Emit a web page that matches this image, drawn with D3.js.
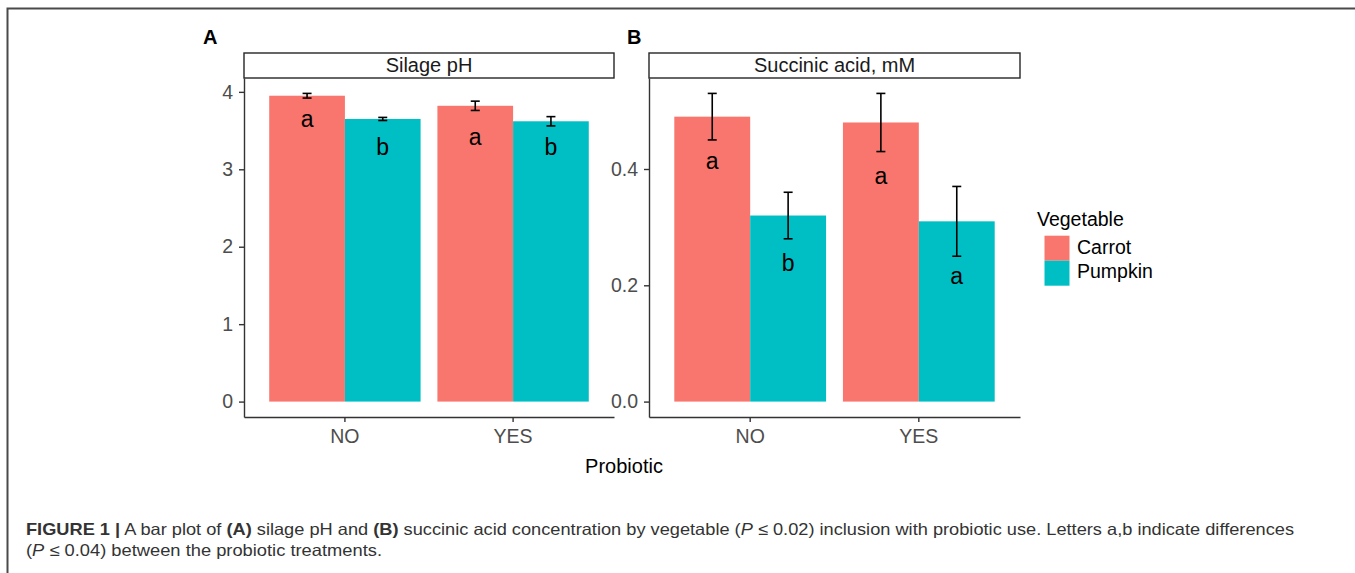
<!DOCTYPE html>
<html>
<head>
<meta charset="utf-8">
<script src="https://cdn.jsdelivr.net/npm/d3@7"></script>
<style>
  body { margin: 0; background: #fff; }
  svg { display: block; }
</style>
</head>
<body>
<svg id="fig" width="1355" height="573"></svg>
<script>
// ---- data ----
const probiotic = ["NO", "YES"];
const vegetables = ["Carrot", "Pumpkin"];

// Silage pH (mean, SE) for NO / YES
const phCarrot = [3.95, 3.82];
const phCarrotSE = [0.03, 0.06];
const phPumpkin = [3.65, 3.62];
const phPumpkinSE = [0.02, 0.06];
const phCarrotLetters = ["a", "a"];
const phPumpkinLetters = ["b", "b"];
const phCarrotLetterY = [3.55, 3.31];
const phPumpkinLetterY = [3.19, 3.19];
const phTicks = [0, 1, 2, 3, 4];

// Succinic acid, mM (mean, SE) for NO / YES
const saCarrot = [0.49, 0.48];
const saCarrotSE = [0.04, 0.05];
const saPumpkin = [0.32, 0.31];
const saPumpkinSE = [0.04, 0.06];
const saCarrotLetters = ["a", "a"];
const saPumpkinLetters = ["b", "a"];
const saCarrotLetterY = [0.40, 0.374];
const saPumpkinLetterY = [0.225, 0.203];
const saTicks = [0.0, 0.2, 0.4];

const colors = ["#F8766D", "#00BFC4"];

function rows(carrot, carrotSE, pumpkin, pumpkinSE, cl, pl, cy, py) {
  const out = [];
  probiotic.forEach((p, i) => {
    out.push({p, veg: "Carrot", v: carrot[i], se: carrotSE[i], letter: cl[i], ly: cy[i]});
    out.push({p, veg: "Pumpkin", v: pumpkin[i], se: pumpkinSE[i], letter: pl[i], ly: py[i]});
  });
  return out;
}

const panels = [
  {
    tag: "A", title: "Silage pH", x0: 244, x1: 614,
    data: rows(phCarrot, phCarrotSE, phPumpkin, phPumpkinSE,
               phCarrotLetters, phPumpkinLetters, phCarrotLetterY, phPumpkinLetterY),
    ticks: phTicks, fmt: d3.format("d")
  },
  {
    tag: "B", title: "Succinic acid, mM", x0: 649, x1: 1020,
    data: rows(saCarrot, saCarrotSE, saPumpkin, saPumpkinSE,
               saCarrotLetters, saPumpkinLetters, saCarrotLetterY, saPumpkinLetterY),
    ticks: saTicks, fmt: d3.format(".1f")
  }
];

const svg = d3.select("#fig");
const FONT = "'Liberation Sans', Arial, Helvetica, sans-serif";
const plotTop = 78, plotBottom = 417, stripTop = 53;

svg.append("rect").attr("width", 1355).attr("height", 573).attr("fill", "#fff");

// figure frame (left and top rule)
svg.append("path")
  .attr("d", "M7.5,573V8.5H1355")
  .attr("fill", "none").attr("stroke", "#4a4a4a").attr("stroke-width", 2);

panels.forEach(pn => {
  const g = svg.append("g");

  const x = d3.scaleBand().domain(probiotic).range([pn.x0, pn.x1])
    .paddingInner(0.1).paddingOuter(0.15);
  const xv = d3.scaleBand().domain(vegetables).range([0, x.bandwidth()]).padding(0);

  const ymax = d3.max(pn.data, d => d.v + d.se);
  const pad = ymax * 0.05;
  const y = d3.scaleLinear().domain([-pad, ymax + pad]).range([plotBottom, plotTop]);

  const cx = d => x(d.p) + xv(d.veg) + xv.bandwidth() / 2;

  // bars
  g.selectAll("rect.bar").data(pn.data).join("rect")
    .attr("class", "bar")
    .attr("x", d => x(d.p) + xv(d.veg))
    .attr("width", xv.bandwidth())
    .attr("y", d => y(d.v))
    .attr("height", d => y(0) - y(d.v))
    .attr("fill", d => colors[vegetables.indexOf(d.veg)]);

  // error bars
  const cap = 4.5;
  const eb = g.selectAll("g.err").data(pn.data).join("g").attr("class", "err")
    .attr("stroke", "#000").attr("stroke-width", 1.6).attr("fill", "none");
  eb.append("line")
    .attr("x1", cx).attr("x2", cx)
    .attr("y1", d => y(d.v + d.se)).attr("y2", d => y(d.v - d.se));
  eb.append("line")
    .attr("x1", d => cx(d) - cap).attr("x2", d => cx(d) + cap)
    .attr("y1", d => y(d.v + d.se)).attr("y2", d => y(d.v + d.se));
  eb.append("line")
    .attr("x1", d => cx(d) - cap).attr("x2", d => cx(d) + cap)
    .attr("y1", d => y(d.v - d.se)).attr("y2", d => y(d.v - d.se));

  // significance letters
  g.selectAll("text.letter").data(pn.data).join("text")
    .attr("class", "letter")
    .attr("x", cx)
    .attr("y", d => y(d.ly))
    .attr("text-anchor", "middle")
    .attr("font-family", FONT).attr("font-size", 23).attr("fill", "#000")
    .text(d => d.letter);

  // axes
  const ya = g.append("g").attr("transform", `translate(${pn.x0},0)`)
    .call(d3.axisLeft(y).tickValues(pn.ticks).tickFormat(pn.fmt)
      .tickSize(5).tickSizeOuter(0).tickPadding(6));
  const xa = g.append("g").attr("transform", `translate(0,${plotBottom})`)
    .call(d3.axisBottom(x).tickSize(5).tickSizeOuter(0).tickPadding(7));
  [ya, xa].forEach(a => {
    a.select(".domain").attr("stroke", "#333").attr("stroke-width", 1.4);
    a.selectAll(".tick line").attr("stroke", "#333").attr("stroke-width", 1.4);
    a.selectAll(".tick text").attr("font-family", FONT).attr("font-size", 19.5)
      .attr("fill", "#4d4d4d");
  });

  // strip
  g.append("rect").attr("x", pn.x0).attr("y", stripTop)
    .attr("width", pn.x1 - pn.x0).attr("height", plotTop - stripTop)
    .attr("fill", "#fff").attr("stroke", "#262626").attr("stroke-width", 1.4);
  g.append("text").attr("x", (pn.x0 + pn.x1) / 2).attr("y", 72)
    .attr("text-anchor", "middle").attr("font-family", FONT)
    .attr("font-size", 20).attr("fill", "#1a1a1a").text(pn.title);
});

// panel tags
svg.append("text").attr("x", 203).attr("y", 44).attr("font-family", FONT)
  .attr("font-weight", "bold").attr("font-size", 20).text("A");
svg.append("text").attr("x", 627).attr("y", 44).attr("font-family", FONT)
  .attr("font-weight", "bold").attr("font-size", 20).text("B");

// shared x-axis title
svg.append("text").attr("x", 624).attr("y", 473).attr("text-anchor", "middle")
  .attr("font-family", FONT).attr("font-size", 20).attr("fill", "#000").text("Probiotic");

// legend
const leg = svg.append("g");
leg.append("text").attr("x", 1037).attr("y", 226).attr("font-family", FONT)
  .attr("font-size", 19.5).attr("fill", "#000").text("Vegetable");
vegetables.forEach((v, i) => {
  leg.append("rect").attr("x", 1044.5).attr("y", 235.7 + i * 25)
    .attr("width", 25).attr("height", 25).attr("fill", colors[i]);
  leg.append("text").attr("x", 1077).attr("y", 254 + i * 23.5)
    .attr("font-family", FONT).attr("font-size", 19.5).attr("fill", "#000").text(v);
});

// caption
const CAP = "'Liberation Sans', Arial, sans-serif";
const l1 = svg.append("text").attr("x", 26).attr("y", 535)
  .attr("font-family", CAP).attr("font-size", 16.5).attr("fill", "#333")
  .attr("textLength", 1268).attr("lengthAdjust", "spacingAndGlyphs");
[
  ["FIGURE 1 |", "bold"], [" A bar plot of ", null], ["(A)", "bold"],
  [" silage pH and ", null], ["(B)", "bold"],
  [" succinic acid concentration by vegetable (", null], ["P", "italic"],
  [" \u2264 0.02) inclusion with probiotic use. Letters a,b indicate differences", null]
].forEach(([t, s]) => {
  const ts = l1.append("tspan").text(t);
  if (s === "bold") ts.attr("font-weight", "bold");
  if (s === "italic") ts.attr("font-style", "italic");
});
const l2 = svg.append("text").attr("x", 26).attr("y", 556)
  .attr("font-family", CAP).attr("font-size", 16.5).attr("fill", "#333")
  .attr("textLength", 356).attr("lengthAdjust", "spacingAndGlyphs");
[["(", null], ["P", "italic"], [" \u2264 0.04) between the probiotic treatments.", null]]
  .forEach(([t, s]) => {
    const ts = l2.append("tspan").text(t);
    if (s === "italic") ts.attr("font-style", "italic");
  });
</script>
</body>
</html>
